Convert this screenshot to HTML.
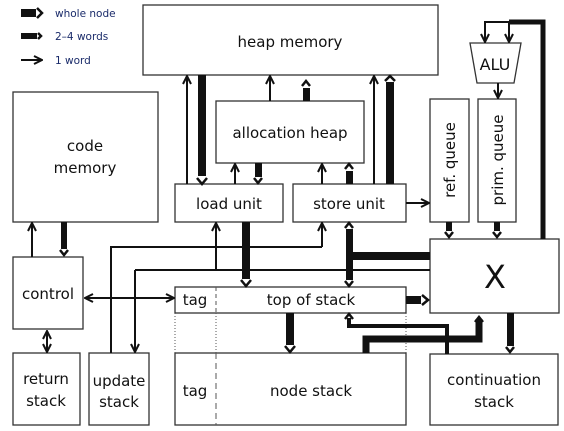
<!DOCTYPE html>
<html><head><meta charset="utf-8"><style>
html,body{margin:0;padding:0;background:#fff}
svg{display:block}
text{font-family:"DejaVu Sans","Liberation Sans",sans-serif;fill:#111}
</style></head><body>
<svg width="564" height="431" viewBox="0 0 564 431" xmlns="http://www.w3.org/2000/svg">
<defs>
<marker id="t" viewBox="0 0 10 10" refX="9" refY="5" markerWidth="10" markerHeight="10" orient="auto-start-reverse" markerUnits="userSpaceOnUse">
<path d="M1,1 L9,5 L1,9" fill="none" stroke="#111" stroke-width="2"/>
</marker>
</defs>
<g fill="none" stroke="#333" stroke-width="1.3">
<rect x="143" y="5" width="295" height="70"/>
<rect x="216" y="101" width="148" height="62"/>
<rect x="13" y="92" width="145" height="130"/>
<rect x="175" y="184" width="108" height="38"/>
<rect x="293" y="184" width="113" height="38"/>
<rect x="430" y="99" width="39" height="123"/>
<rect x="478" y="99" width="38" height="123"/>
<polygon points="470,43 521,43 514,83 477,83"/>
<rect x="430" y="239" width="129" height="74"/>
<rect x="13" y="257" width="70" height="72"/>
<rect x="13" y="353" width="67" height="72"/>
<rect x="89" y="353" width="60" height="72"/>
<rect x="175" y="287" width="231" height="26"/>
<rect x="175" y="353" width="231" height="72"/>
<rect x="430" y="354" width="128" height="71"/>
</g>
<g stroke="#555" stroke-width="1">
<line x1="216" y1="287" x2="216" y2="313" stroke-dasharray="4,3"/>
<line x1="216" y1="353" x2="216" y2="425" stroke-dasharray="6,4"/>
<line x1="175" y1="313" x2="175" y2="353" stroke-dasharray="1,2"/>
<line x1="216" y1="313" x2="216" y2="353" stroke-dasharray="1,2"/>
<line x1="406" y1="313" x2="406" y2="353" stroke-dasharray="1,2"/>
</g>
<g stroke="#111" stroke-width="2" fill="none">
<line x1="187" y1="184" x2="187" y2="76" marker-end="url(#t)"/>
<line x1="235" y1="184" x2="235" y2="164" marker-end="url(#t)"/>
<line x1="270" y1="101" x2="270" y2="76" marker-end="url(#t)"/>
<line x1="322" y1="184" x2="322" y2="164" marker-end="url(#t)"/>
<line x1="374" y1="184" x2="374" y2="76" marker-end="url(#t)"/>
<line x1="406" y1="203" x2="429" y2="203" marker-end="url(#t)"/>
<line x1="498" y1="83" x2="498" y2="98" marker-end="url(#t)"/>
<polyline points="485,43 485,22 509,22"/>
<line x1="485" y1="27" x2="485" y2="42" marker-end="url(#t)"/>
<line x1="509" y1="22" x2="509" y2="42" marker-end="url(#t)"/>
<line x1="32" y1="257" x2="32" y2="223" marker-end="url(#t)"/>
<line x1="47" y1="331" x2="47" y2="352" marker-start="url(#t)" marker-end="url(#t)"/>
<line x1="85" y1="298" x2="174" y2="298" marker-start="url(#t)" marker-end="url(#t)"/>
<polyline points="111,353 111,247 322,247"/>
<line x1="322" y1="247" x2="322" y2="223" marker-end="url(#t)"/>
<line x1="135" y1="270" x2="430" y2="270"/>
<line x1="135" y1="270" x2="135" y2="352" marker-end="url(#t)"/>
<line x1="216" y1="270" x2="216" y2="223" marker-end="url(#t)"/>
<line x1="21" y1="60" x2="42" y2="60" marker-end="url(#t)"/>
</g>
<g stroke="#111" fill="none">
<polyline points="509,22 543,22 543,239" stroke-width="5"/>
<polyline points="447,354 447,326 349,326 349,318" stroke-width="4"/>
<polyline points="366,353 366,339 479,339 479,319" stroke-width="7"/>
</g>
<g fill="#111">
<rect x="198" y="75" width="8" height="101"/>
<rect x="255" y="163" width="7" height="14"/>
<rect x="303" y="88" width="7" height="13"/>
<rect x="346" y="171" width="7" height="13"/>
<rect x="386" y="82" width="8" height="102"/>
<rect x="446" y="222" width="6" height="9"/>
<rect x="494" y="222" width="6" height="9"/>
<rect x="61" y="222" width="6" height="27"/>
<rect x="242" y="222" width="8" height="57"/>
<rect x="346" y="229" width="7" height="51"/>
<rect x="349" y="252" width="81" height="8"/>
<rect x="406" y="296" width="15" height="8"/>
<rect x="286" y="313" width="8" height="32"/>
<rect x="507" y="313" width="7" height="33"/>
<rect x="476" y="323" width="6" height="10"/>
<rect x="21" y="9" width="15" height="8"/>
<rect x="21" y="33" width="16" height="6"/>
</g>
<g stroke="#111" stroke-width="2.5" fill="none">
<polyline points="197,178 202,184 207,178"/>
<polyline points="254,178 258,183 262,178"/>
<polyline points="302,86 306,81 310,86"/>
<polyline points="345,169 349,164 353,169"/>
<polyline points="385,81 390,76 395,81"/>
<polyline points="445,232 449,237 453,232"/>
<polyline points="493,232 497,237 501,232"/>
<polyline points="60,250 64,255 68,250"/>
<polyline points="241,280 246,286 251,280"/>
<polyline points="345,281 349,286 353,281"/>
<polyline points="345,228 349,223 353,228"/>
<polyline points="422,295 428,300 422,305"/>
<polyline points="285,346 290,352 295,346"/>
<polyline points="506,347 510,352 514,347"/>
<polyline points="345,319 349,314 353,319"/>
<polyline points="475,322 479,317 483,322"/>
<polyline points="37,8 42,13 37,18"/>
<polyline points="38,33 41,36 38,39"/>
</g>
<g font-size="15" text-anchor="middle">
<text x="290" y="47">heap memory</text>
<text x="290" y="138">allocation heap</text>
<text x="85" y="151">code</text>
<text x="85" y="173">memory</text>
<text x="229" y="209">load unit</text>
<text x="349" y="209">store unit</text>
<text x="495" y="70" font-size="16">ALU</text>
<text transform="translate(455,160) rotate(-90)">ref. queue</text>
<text transform="translate(503,160) rotate(-90)">prim. queue</text>
<text x="495" y="288" font-size="32">X</text>
<text x="48" y="299">control</text>
<text x="46" y="384">return</text>
<text x="46" y="406">stack</text>
<text x="119" y="386">update</text>
<text x="119" y="407">stack</text>
<text x="195" y="305">tag</text>
<text x="311" y="305">top of stack</text>
<text x="195" y="396">tag</text>
<text x="311" y="396">node stack</text>
<text x="494" y="385">continuation</text>
<text x="494" y="407">stack</text>
</g>
<g font-size="10.5">
<text x="55" y="17" style="fill:#1a2b6a">whole node</text>
<text x="55" y="40" style="fill:#1a2b6a">2–4 words</text>
<text x="55" y="64" style="fill:#1a2b6a">1 word</text>
</g>
</svg>
</body></html>
